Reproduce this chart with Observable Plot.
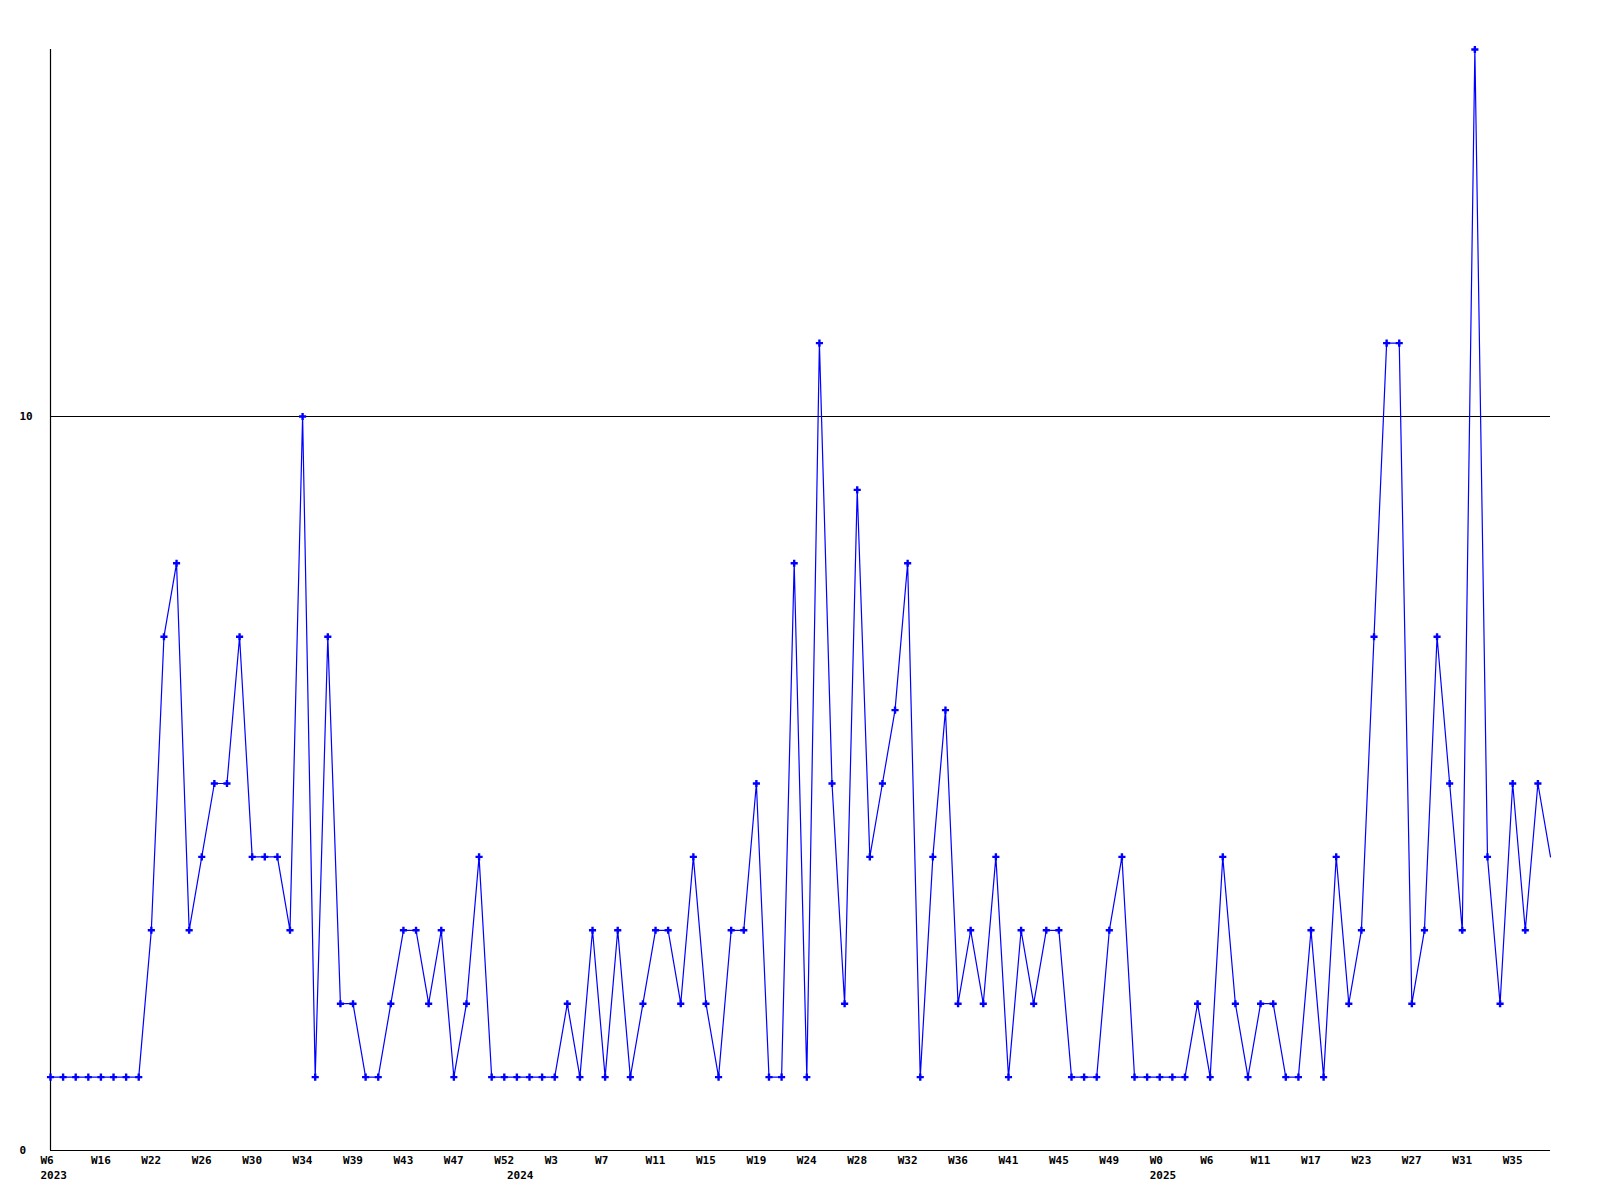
<!DOCTYPE html>
<html>
<head>
<meta charset="utf-8">
<script src="https://cdn.jsdelivr.net/npm/d3@7"></script>
<script src="https://cdn.jsdelivr.net/npm/@observablehq/plot@0.6"></script>
<style>
  html, body { margin: 0; padding: 0; background: #ffffff; }
  #chart { width: 1600px; height: 1200px; }
</style>
</head>
<body>
<div id="chart"></div>
<script>
// Week numbers per year (each entry is one data point, evenly spaced on the axis)
const weeks2023 = [6, 9, 12, 14, 16, 18, 19, 21, 22, 23, 24, 25, 26, 27, 28, 29, 30, 31, 32, 33, 34, 35, 36, 38, 39, 40, 41, 42, 43, 44, 45, 46, 47, 48, 49, 51, 52];
const weeks2024 = [0, 1, 2, 3, 4, 5, 6, 7, 8, 9, 10, 11, 12, 13, 14, 15, 16, 17, 18, 19, 20, 21, 23, 24, 25, 26, 27, 28, 29, 30, 31, 32, 33, 34, 35, 36, 37, 38, 40, 41, 42, 43, 44, 45, 46, 47, 48, 49, 50, 51, 52];
const weeks2025 = [0, 2, 3, 5, 6, 7, 8, 10, 11, 12, 14, 15, 17, 18, 20, 21, 23, 24, 25, 26, 27, 28, 29, 30, 31, 32, 33, 34, 35, 36, 37, 38];

const values2023 = [1, 1, 1, 1, 1, 1, 1, 1, 3, 7, 8, 3, 4, 5, 5, 7, 4, 4, 4, 3, 10, 1, 7, 2, 2, 1, 1, 2, 3, 3, 2, 3, 1, 2, 4, 1, 1];
const values2024 = [1, 1, 1, 1, 2, 1, 3, 1, 3, 1, 2, 3, 3, 2, 4, 2, 1, 3, 3, 5, 1, 1, 8, 1, 11, 5, 2, 9, 4, 5, 6, 8, 1, 4, 6, 2, 3, 2, 4, 1, 3, 2, 3, 3, 1, 1, 1, 3, 4, 1, 1];
const values2025 = [1, 1, 1, 2, 1, 4, 2, 1, 2, 2, 1, 1, 3, 1, 4, 2, 3, 7, 11, 11, 2, 3, 7, 5, 3, 15, 4, 2, 5, 3, 5, 4];

const yTicks = [0, 10];
const ruleValues = [10];

// Build the table
const data = [];
[[2023, weeks2023, values2023], [2024, weeks2024, values2024], [2025, weeks2025, values2025]].forEach(([year, wk, vals]) => {
  wk.forEach((w, j) => {
    data.push({i: data.length, year, week: w, label: "W" + w, value: vals[j], yearStart: j === 0});
  });
});
const n = data.length;
const weekTicks = data.filter(d => d.i % 4 === 0).map(d => d.i);
const yearTicks = data.filter(d => d.yearStart).map(d => d.i);

const font = "'DejaVu Sans Mono', 'Liberation Mono', monospace";

const chart = Plot.plot({
  width: 1600,
  height: 1200,
  marginLeft: 50,
  marginRight: 50,
  marginTop: 49,
  marginBottom: 50,
  style: {background: "#ffffff", fontFamily: font, fontSize: "11px", fontWeight: "bold", color: "#000"},
  x: {type: "linear", domain: [0, n - 1]},
  y: {domain: [0, 15]},
  marks: [
    Plot.ruleY(ruleValues, {stroke: "#000", strokeWidth: 1}),
    Plot.ruleY([0], {stroke: "#000", strokeWidth: 1.2}),
    Plot.ruleX([0], {stroke: "#000", strokeWidth: 1.2}),
    Plot.axisY(yTicks, {tickSize: 0, tickPadding: 0, textAnchor: "start", dx: -31, label: null,
      tickFormat: d => String(d), fontWeight: "bold", fill: "#000"}),
    Plot.axisX(weekTicks, {tickSize: 0, tickPadding: 6, textAnchor: "start", dx: -10, label: null,
      tickFormat: i => data[i].label, fontWeight: "bold", fill: "#000"}),
    Plot.axisX(yearTicks, {tickSize: 0, tickPadding: 21, textAnchor: "start", dx: -10, label: null,
      tickFormat: i => String(data[i].year), fontWeight: "bold", fill: "#000"}),
    Plot.line(data, {x: "i", y: "value", stroke: "#0000ff", strokeWidth: 1.2}),
    Plot.dot(data.filter(d => d.i < n - 1), {x: "i", y: "value", symbol: "cross", r: 3, fill: "#0000ff", stroke: "none"})
  ]
});
document.getElementById("chart").appendChild(chart);
</script>
</body>
</html>
